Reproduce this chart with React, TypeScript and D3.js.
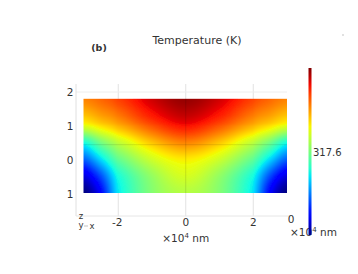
import React, { useMemo } from 'react';
import * as d3 from 'd3';

// ---- data ----
const xGrid = [-3, -2.5, -2, -1, 0, 1, 2, 2.5, 3];
const yGrid = [1.8, 1.3, 1.0, 0.5, 0, -0.5, -1];
// normalised temperature (0 = coldest, 1 = hottest) at each grid node
const tempRow18 = [0.77, 0.80, 0.84, 0.93, 0.98, 0.93, 0.84, 0.80, 0.77];
const tempRow13 = [0.70, 0.74, 0.78, 0.88, 0.94, 0.88, 0.78, 0.74, 0.70];
const tempRow10 = [0.62, 0.67, 0.72, 0.82, 0.89, 0.82, 0.72, 0.67, 0.62];
const tempRow05 = [0.38, 0.49, 0.58, 0.70, 0.77, 0.70, 0.58, 0.49, 0.38];
const tempRow00 = [0.22, 0.34, 0.47, 0.60, 0.66, 0.60, 0.47, 0.34, 0.22];
const tempRowM05 = [0.08, 0.20, 0.38, 0.53, 0.61, 0.53, 0.38, 0.20, 0.08];
const tempRowM10 = [0.0, 0.12, 0.35, 0.51, 0.57, 0.51, 0.35, 0.12, 0.0];
const tempGrid = [tempRow18, tempRow13, tempRow10, tempRow05, tempRow00, tempRowM05, tempRowM10];

const xTicks = [-2, 0, 2];
const xTickLabels = ['-2', '0', '2'];
const yTicks = [2, 1, 0, -1];
const yTickLabels = ['2', '1', '0', '1'];
const colorbarLabel = '317.6';
const titleText = 'Temperature (K)';
const panelLabel = '(b)';

// jet colormap
function jet(t: number): [number, number, number] {
  const seg = (pts: number[][], v: number) => {
    for (let i = 0; i < pts.length - 1; i++) {
      const [x0, y0] = pts[i];
      const [x1, y1] = pts[i + 1];
      if (v >= x0 && v <= x1) return y0 + ((v - x0) / (x1 - x0 || 1)) * (y1 - y0);
    }
    return pts[pts.length - 1][1];
  };
  const v = Math.max(0, Math.min(1, t));
  const r = seg([[0, 0], [0.35, 0], [0.66, 1], [0.89, 1], [1, 0.5]], v);
  const g = seg([[0, 0], [0.125, 0], [0.375, 1], [0.64, 1], [0.91, 0], [1, 0]], v);
  const b = seg([[0, 0.5], [0.11, 1], [0.34, 1], [0.65, 0], [1, 0]], v);
  return [Math.round(r * 255), Math.round(g * 255), Math.round(b * 255)];
}

// Catmull-Rom along a row of values at fractional index u
function cr(vals: number[], u: number) {
  const n = vals.length;
  const i = Math.max(0, Math.min(n - 2, Math.floor(u)));
  const t = u - i;
  const p0 = vals[Math.max(0, i - 1)];
  const p1 = vals[i];
  const p2 = vals[i + 1];
  const p3 = vals[Math.min(n - 1, i + 2)];
  const t2 = t * t, t3 = t2 * t;
  return 0.5 * (2 * p1 + (-p0 + p2) * t + (2 * p0 - 5 * p1 + 4 * p2 - p3) * t2 + (-p0 + 3 * p1 - 3 * p2 + p3) * t3);
}

const xIdx = d3.scaleLinear().domain(xGrid).range(xGrid.map((_, i) => i)).clamp(true);
const yIdx = d3.scaleLinear().domain(yGrid).range(yGrid.map((_, i) => i)).clamp(true);

function sample(x: number, y: number) {
  const u = xIdx(x);
  const v = yIdx(y);
  const col = tempGrid.map((row) => cr(row, u));
  return cr(col, v);
}

export default function App() {
  const xs = d3.scaleLinear().domain([-2, 2]).range([118.25, 253.25]);
  const ys = d3.scaleLinear().domain([-1, 2]).range([194, 92]);

  const hx0 = xs(d3.min(xGrid)!) - 1;
  const hx1 = xs(d3.max(xGrid)!);
  const hy0 = ys(d3.max(yGrid)!);
  const hy1 = ys(d3.min(yGrid)!) - 1;

  const url = useMemo(() => {
    const W = Math.round(hx1 - hx0) * 2;
    const H = Math.round(hy1 - hy0) * 2;
    const cv = document.createElement('canvas');
    cv.width = W;
    cv.height = H;
    const ctx = cv.getContext('2d')!;
    const img = ctx.createImageData(W, H);
    const xinv = d3.scaleLinear().domain([0, W - 1]).range([d3.min(xGrid)!, d3.max(xGrid)!]);
    const yinv = d3.scaleLinear().domain([0, H - 1]).range([d3.max(yGrid)!, d3.min(yGrid)!]);
    for (let j = 0; j < H; j++) {
      for (let i = 0; i < W; i++) {
        const [r, g, b] = jet(sample(xinv(i), yinv(j)));
        const k = (j * W + i) * 4;
        img.data[k] = r;
        img.data[k + 1] = g;
        img.data[k + 2] = b;
        img.data[k + 3] = 255;
      }
    }
    ctx.putImageData(img, 0, 0);
    return cv.toDataURL();
  }, []);

  const cbStops = d3.range(0, 1.0001, 0.05);
  const axisLeft = 76;
  const axisBottom = 216;
  const axisTop = 84;
  const axisRight = 287;
  const font = 'DejaVu Sans, sans-serif';
  const txt = '#333';

  return (
    <svg width={358} height={274} style={{ position: 'absolute', left: 0, top: 0, background: '#fff' }} fontFamily={font}>
      <defs>
        <linearGradient id="cb" x1="0" y1="1" x2="0" y2="0">
          {cbStops.map((t) => {
            const [r, g, b] = jet(t);
            return <stop key={t} offset={t} stopColor={`rgb(${r},${g},${b})`} />;
          })}
        </linearGradient>
        <filter id="soft" x="-5%" y="-5%" width="110%" height="110%">
          <feGaussianBlur stdDeviation="0.6" />
        </filter>
      </defs>
      <rect x={0} y={0} width={358} height={274} fill="#fff" />

      {/* grid */}
      {xTicks.map((t) => (
        <line key={'gx' + t} x1={xs(t)} x2={xs(t)} y1={axisTop} y2={axisBottom} stroke="#e2e2e2" strokeWidth={1} />
      ))}
      <line x1={axisLeft} x2={axisRight} y1={ys(2)} y2={ys(2)} stroke="#eee" strokeWidth={1} />
      <line x1={axisLeft} x2={axisLeft} y1={axisTop} y2={axisBottom} stroke="#e0e0e0" strokeWidth={1} />
      <line x1={axisLeft} x2={axisRight + 4} y1={axisBottom} y2={axisBottom} stroke="#e6e6e6" strokeWidth={1} />

      {/* heatmap */}
      <image href={url} x={hx0} y={hy0} width={hx1 - hx0} height={hy1 - hy0} preserveAspectRatio="none" filter="url(#soft)" />
      <line x1={xs(0)} x2={xs(0)} y1={hy0} y2={hy1} stroke="#000" strokeOpacity={0.12} />
      <line x1={hx0} x2={hx1} y1={ys(0.45)} y2={ys(0.45)} stroke="#000" strokeOpacity={0.1} />

      {/* y ticks */}
      {yTicks.map((t, i) => (
        <text key={'yt' + t} x={70} y={ys(t) + 4} fontSize={10.5} textAnchor="middle" fill={txt}>
          {yTickLabels[i]}
        </text>
      ))}
      {/* x ticks */}
      {xTicks.map((t, i) => (
        <text key={'xt' + t} x={xs(t) - (i === 0 ? 1 : 0)} y={226} fontSize={10.5} textAnchor="middle" fill={txt}>
          {xTickLabels[i]}
        </text>
      ))}
      <text x={291} y={223} fontSize={10.5} textAnchor="middle" fill={txt}>0</text>

      {/* unit labels */}
      <text x={xs(0)} y={242} fontSize={10.5} textAnchor="middle" fill={txt}>
        ×10<tspan fontSize={7} dy={-4}>4</tspan><tspan dy={4}> nm</tspan>
      </text>
      <text x={290} y={236} fontSize={10.5} textAnchor="start" fill={txt}>
        ×10<tspan fontSize={7} dy={-4}>4</tspan><tspan dy={4}> nm</tspan>
      </text>

      {/* orientation triad */}
      <text x={81} y={219} fontSize={8.5} textAnchor="middle" fill={txt}>z</text>
      <text x={81} y={228} fontSize={8.5} textAnchor="middle" fill={txt}>y</text>
      <text x={92} y={229} fontSize={8.5} textAnchor="middle" fill={txt}>x</text>
      <line x1={84} x2={88} y1={226} y2={226} stroke="#999" strokeWidth={0.6} />

      {/* colorbar */}
      <rect x={308.5} y={68} width={3} height={167} fill="url(#cb)" />
      <text x={313} y={156} fontSize={10} fill={txt}>{colorbarLabel}</text>

      {/* titles */}
      <text x={197} y={44} fontSize={11} textAnchor="middle" fill={txt}>{titleText}</text>
      <text x={99} y={51} fontSize={9.5} fontWeight="bold" textAnchor="middle" fill={txt}>{panelLabel}</text>
      <circle cx={343} cy={35} r={0.8} fill="#bbb" />
    </svg>
  );
}
